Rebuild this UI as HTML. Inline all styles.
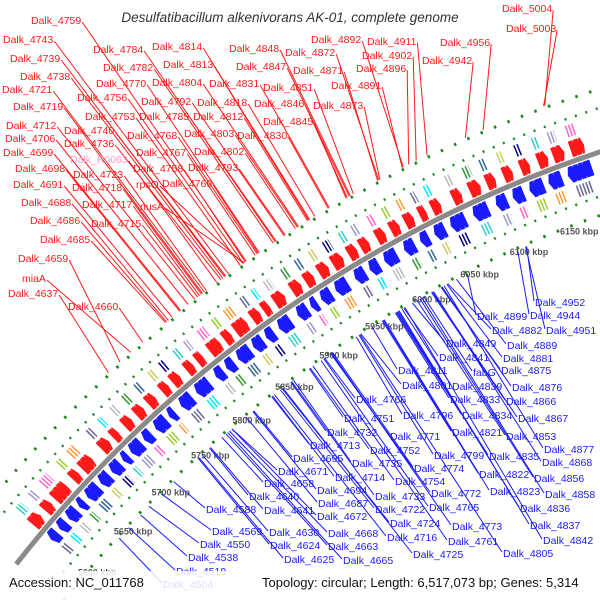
<!DOCTYPE html>
<html><head><meta charset="utf-8"><style>
html,body{margin:0;padding:0;background:#fff}
svg{display:block;font-family:"Liberation Sans",sans-serif}
</style></head><body>
<svg id="map" width="600" height="600" viewBox="0 0 600 600">
<rect width="600" height="600" fill="#fff"/>
<g id="rings"></g>
<g id="lines"></g>
<g id="labels"></g>
<text x="290" y="22" text-anchor="middle" font-style="italic" font-size="13.5" fill="#333">Desulfatibacillum alkenivorans AK-01, complete genome</text>
<rect x="0" y="571" width="600" height="29" fill="#fff" fill-opacity="0.85"/>
<text x="9" y="587" font-size="13" fill="#111">Accession: NC_011768</text>
<text x="262" y="587" font-size="13" fill="#111">Topology: circular; Length: 6,517,073 bp; Genes: 5,314</text>
</svg>
<script>
const tickKbp = [5600,5650,5700,5750,5800,5850,5900,5950,6000,6050,6100,6150];
const fwdGeneStart = [5596,5612,5625,5648,5660,5684,5698,5712,5726,5740,5756,5768,5784,5796,5810,5826,5838,5856,5868,5880,5898,5912,5926,5940,5956,5968,5984,5998,6012,6026,6038,6058,6074,6090,6106,6122,6138,6152,6168];
const fwdGeneEnd   = [5606,5620,5640,5655,5672,5693,5704,5720,5734,5748,5763,5776,5791,5802,5821,5833,5850,5864,5874,5890,5907,5920,5935,5950,5964,5976,5992,6006,6020,6032,6046,6066,6084,6098,6114,6130,6147,6162,6180];
const revGeneStart = [5596,5608,5620,5634,5645,5662,5676,5690,5700,5716,5730,5746,5760,5778,5800,5812,5825,5842,5856,5870,5890,5904,5915,5930,5950,5965,5980,6000,6016,6030,6046,6068,6090,6106,6122,6140,6158];
const revGeneEnd   = [5604,5616,5630,5640,5658,5672,5686,5696,5712,5724,5742,5752,5772,5792,5808,5820,5838,5852,5864,5882,5900,5910,5925,5942,5960,5974,5992,6010,6024,6040,6060,6082,6100,6116,6135,6152,6180];
const fwdNames = ["Dalk_4759","Dalk_4743","Dalk_4739","Dalk_4738","Dalk_4721","Dalk_4719","Dalk_4712","Dalk_4706","Dalk_4699","Dalk_4698","Dalk_4691","Dalk_4688","Dalk_4686","Dalk_4685","Dalk_4659","miaA","Dalk_4637","Dalk_4660","Dalk_4784","Dalk_4782","Dalk_4770","Dalk_4756","Dalk_4753","Dalk_4740","Dalk_4736","Dalk_R0063","Dalk_4723","Dalk_4718","Dalk_4717","Dalk_4715","Dalk_4814","Dalk_4813","Dalk_4804","Dalk_4792","Dalk_4785","Dalk_4768","Dalk_4767","Dalk_4758","rpsO","nusA","Dalk_4769","Dalk_4803","Dalk_4802","Dalk_4793","Dalk_4818","Dalk_4812","Dalk_4831","Dalk_4848","Dalk_4847","Dalk_4846","Dalk_4845","Dalk_4830","Dalk_4851","Dalk_4871","Dalk_4872","Dalk_4892","Dalk_4911","Dalk_4902","Dalk_4896","Dalk_4891","Dalk_4873","Dalk_4956","Dalk_4942","Dalk_5004","Dalk_5003"];
const fwdKbp = [5880,5862,5858,5856,5837,5835,5827,5820,5812,5811,5803,5799,5797,5796,5746,5758,5733,5771,5909,5907,5893,5877,5874,5859,5854,5850,5839,5834,5832,5830,5943,5942,5932,5918,5910,5891,5889,5879,5877,5878,5892,5931,5929,5919,5948,5941,5962,5982,5981,5979,5978,5961,5985,6008,6009,6032,6054,6044,6037,6031,6010,6105,6089,6160,6159];
const fwdLx = [31,3,10,20,2,13,6,5,3,15,13,21,30,40,18,22,8,68,93,103,96,77,85,64,64,70,73,72,82,91,152,163,152,141,139,127,136,133,136,140,162,184,194,188,197,193,209,229,236,254,263,237,263,293,285,311,367,362,356,331,313,440,422,502,506];
const fwdLy = [20,39,58,76,89,106,125,138,152,168,184,202,220,239,258,278,293,306,49,67,83,97,116,130,143,159,174,187,204,223,46,64,82,101,116,135,152,168,184,206,183,133,151,167,102,116,83,48,66,103,121,135,87,70,52,39,41,55,68,85,105,42,60,8,28];
const revNames = ["Dalk_4952","Dalk_4944","Dalk_4899","Dalk_4882","Dalk_4951","Dalk_4849","Dalk_4889","Dalk_4841","Dalk_4881","Dalk_4811","fabG","Dalk_4875","Dalk_4801","Dalk_4839","Dalk_4876","Dalk_4766","Dalk_4833","Dalk_4866","Dalk_4796","Dalk_4834","Dalk_4867","Dalk_4751","Dalk_4821","Dalk_4853","Dalk_4732","Dalk_4771","Dalk_4713","Dalk_4752","Dalk_4799","Dalk_4835","Dalk_4877","Dalk_4868","Dalk_4695","Dalk_4735","Dalk_4774","Dalk_4671","Dalk_4714","Dalk_4822","Dalk_4856","Dalk_4754","Dalk_4658","Dalk_4694","Dalk_4823","Dalk_4772","Dalk_4858","Dalk_4640","Dalk_4687","Dalk_4733","Dalk_4765","Dalk_4641","Dalk_4722","Dalk_4836","Dalk_4588","Dalk_4672","Dalk_4569","Dalk_4668","Dalk_4724","Dalk_4630","Dalk_4716","Dalk_4773","Dalk_4837","Dalk_4550","Dalk_4624","Dalk_4663","Dalk_4761","Dalk_4842","Dalk_4538","Dalk_4625","Dalk_4665","Dalk_4725","Dalk_4805","Dalk_4519","Dalk_4504"];
const revKbp = [6100,6091,6040,6020,6099,5983,6029,5974,6019,5940,5995,6013,5928,5972,6014,5888,5965,6003,5923,5966,6004,5871,5951,5988,5850,5895,5828,5872,5926,5967,6016,6005,5807,5853,5897,5781,5829,5952,5991,5875,5769,5806,5953,5895,5993,5754,5798,5851,5887,5755,5838,5968,5709,5781,5693,5778,5840,5745,5831,5896,5969,5677,5740,5774,5884,5975,5666,5741,5776,5841,5927,5650,5637];
const revLx = [535,530,477,492,546,446,507,439,503,398,473,501,402,452,512,356,450,506,403,462,518,344,452,506,327,390,310,370,434,489,544,542,293,352,414,278,335,479,534,395,264,317,490,431,545,249,318,375,429,264,375,520,206,317,212,328,390,269,387,452,530,200,270,328,448,543,188,284,343,413,503,176,163];
const revLy = [302,315,316,330,330,343,345,357,358,370,372,370,385,386,387,399,399,401,415,415,418,418,432,436,432,436,445,450,455,456,449,462,458,463,468,471,477,474,478,481,483,490,491,493,494,496,503,496,507,510,509,508,509,516,531,533,523,532,537,526,525,544,545,546,541,540,557,559,560,554,553,571,584];

const NS="http://www.w3.org/2000/svg";
const cx=993, cy=1328, R=1240;
function ang(k){return (-47.2+0.05306*(k-5650))*Math.PI/180;}
function px(r,k){return cx+r*Math.sin(ang(k));}
function py(r,k){return cy-r*Math.cos(ang(k));}
function arcD(r,s,e){return `M${px(r,s).toFixed(1)},${py(r,s).toFixed(1)} A${r},${r} 0 0 1 ${px(r,e).toFixed(1)},${py(r,e).toFixed(1)}`;}
function pt(r,k){return px(r,k).toFixed(1)+','+py(r,k).toFixed(1);}
function mk(tag,attrs,parent){const el=document.createElementNS(NS,tag);for(const a in attrs)el.setAttribute(a,attrs[a]);parent.appendChild(el);return el;}
const rings=document.getElementById('rings'), lines=document.getElementById('lines'), labels=document.getElementById('labels');
const K0=5560,K1=6240;
[[R+42,'2 9',2.5],[R+60,'2.5 12',3],[R-42,'2 9',2.5],[R-60,'2.5 12',3]].forEach(d=>{
  const el=mk('path',{d:arcD(d[0],K0,K1),fill:'none',stroke:'#1c8a1c','stroke-width':d[2],'stroke-dasharray':d[1]},rings);
  
  
});
const bb=mk('path',{d:arcD(R,K0,K1),fill:'none',stroke:'#8a8a8a','stroke-width':5},rings);


const cogColors=['#33cccc','#9999cc','#ff66cc','#99cc33','#ff9933','#666699','#00e5ff','#bbbbbb','#339933','#336699','#cccc66','#000080'];
function drawGenes(starts,ends,r1,r2,color,fwd,name){
  starts.forEach((s,i)=>{
    const e=ends[i];
    for(let a=s;a<e-1;a+=4.5){
      const b=Math.min(e,a+6), tip=Math.min(2.5,(b-a)/2), m=(r1+r2)/2;
      let p;
      if(fwd) p=[pt(r1,a),pt(r2,a),pt(r2,b-tip),pt(m,b),pt(r1,b-tip)];
      else p=[pt(r1,b),pt(r2,b),pt(r2,a+tip),pt(m,a),pt(r1,a+tip)];
      const g=mk('polygon',{points:p.join(' '),fill:color,stroke:color,'stroke-width':0.5},rings);
      
      
    }
  });
}
drawGenes(fwdGeneStart,fwdGeneEnd,R+4,R+20,'#ff1a1a',true,'forward-gene');
drawGenes(revGeneStart,revGeneEnd,R-4,R-20,'#1a1aff',false,'reverse-gene');
function drawCog(starts,ends,rmid,off,name){
  starts.forEach((s,i)=>{
    const e=ends[i];
    const a=s+(e-s)*0.15, b=s+(e-s)*0.75;
    const c=mk('path',{d:arcD(rmid,a,b),fill:'none',stroke:cogColors[(i+off)%cogColors.length],'stroke-width':12,'stroke-dasharray':'1.5 1.8'},rings);
    
    
  });
}
drawCog(fwdGeneStart,fwdGeneEnd,R+30,0,'forward-cog-bar');
drawCog(revGeneStart,revGeneEnd,R-30,5,'reverse-cog-bar');
tickKbp.forEach(k=>{
  const t=mk('text',{x:px(R-68,k).toFixed(1),y:(py(R-68,k)+3).toFixed(1),'text-anchor':'middle','font-size':9,'font-weight':'bold',fill:'#555'},rings);
  t.textContent=k+' kbp';
  
  
});
fwdNames.forEach((n,i)=>{
  const t=mk('text',{x:fwdLx[i],y:fwdLy[i]+4,'font-size':10.5,fill:n==='Dalk_R0063'?'#ff99cc':'#ff1a1a'},labels);
  t.textContent=n;
  
  
  const w=t.getComputedTextLength();
  const l=mk('line',{x1:fwdLx[i]+w+1,y1:fwdLy[i]+2,x2:px(R+62,fwdKbp[i]).toFixed(1),y2:py(R+62,fwdKbp[i]).toFixed(1),stroke:'#ff1a1a','stroke-width':1},lines);
  
  
});
revNames.forEach((n,i)=>{
  const t=mk('text',{x:revLx[i],y:revLy[i]+4,'font-size':10.5,fill:'#1a1aff'},labels);
  t.textContent=n;
  
  
  const l=mk('line',{x1:revLx[i]-1,y1:revLy[i]-1,x2:px(R-62,revKbp[i]).toFixed(1),y2:py(R-62,revKbp[i]).toFixed(1),stroke:'#1a1aff','stroke-width':1},lines);
  
  
});
</script>
</body></html>
